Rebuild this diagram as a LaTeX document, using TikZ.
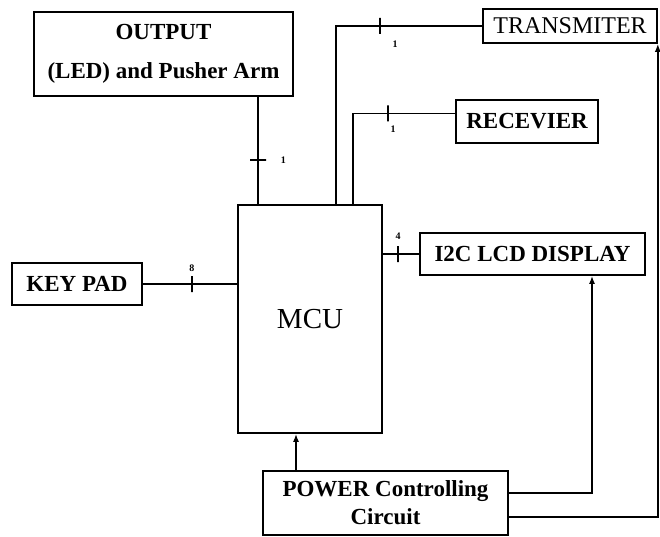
\documentclass[tikz,border=0pt]{standalone}
\usepackage{fontspec}
\setmainfont{Liberation Serif}
\usetikzlibrary{positioning,arrows.meta,calc}

\begin{document}
\begin{tikzpicture}[x=1pt,y=-1pt,
    block/.style={rectangle,draw,line width=1.6pt,inner sep=0pt,align=center,font=\fontsize{23}{28}\selectfont\bfseries},
    wire/.style={line width=1.6pt},
    supply/.style={wire,-{Latex[length=8pt,width=6pt]}},
    tickmark/.style={draw,line width=1.6pt,inner sep=0pt,minimum width=0pt,minimum height=16pt,sloped},
    pins/.style={font=\fontsize{10}{10}\selectfont\bfseries,inner sep=0pt}]
    \useasboundingbox (0,0) rectangle (660,537);

    % MCU
    \node[block,minimum width=144,minimum height=228,font=\fontsize{29}{29}\selectfont] (mcu) at (310,319) {MCU};

    % Output
    \node[block,minimum width=259,minimum height=84,font=\fontsize{23}{39}\selectfont\bfseries] (output) at (163.5,54) {OUTPUT\\(LED) and Pusher Arm};

    % Key pad
    \node[block,minimum width=130,minimum height=42] (keypad) at (77,284) {KEY PAD};

    % Display
    \node[block,minimum width=225,minimum height=42] (lcd) at (532.5,254) {I2C LCD DISPLAY};

    % Radio
    \node[block,minimum width=174,minimum height=34,font=\fontsize{24}{28}\selectfont] (trans) at (570,26) {TRANSMITER};
    \node[block,minimum width=142,minimum height=43] (recv) at (527,121.5) {RECEVIER};

    % Power
    \node[block,minimum width=245,minimum height=64] (power) at (385.5,503) {POWER Controlling\\Circuit};

    % Tap points
    \coordinate (ox) at (258,0);
    \coordinate (tx) at (336,0);
    \coordinate (rx) at (353,0);
    \coordinate (px) at (296,0);
    \coordinate (lx) at (592,0);

    % Signal lines
    \draw[wire] (output.south -| ox) -- (mcu.north -| ox)
        node[tickmark,pos=0.59]{} node[pins,pos=0.59,right=22pt]{1};
    \draw[wire] (mcu.north -| tx) |- (trans.west)
        node[tickmark,pos=0.65]{} node[pins,pos=0.65,below right=14pt and 12pt]{1};
    \draw[wire] (mcu.north -| rx) |- ([yshift=8pt]recv.west)
        node[tickmark,pos=0.67]{} node[pins,pos=0.67,below right=12pt and 2pt]{1};
    \draw[wire] (keypad.east) -- (keypad.east -| mcu.west)
        node[tickmark,pos=0.52]{} node[pins,pos=0.52,above=12pt]{8};
    \draw[wire] (lcd.west -| mcu.east) -- (lcd.west)
        node[tickmark,pos=0.42]{} node[pins,pos=0.42,above=14pt]{4};

    % Power lines
    \draw[supply] (power.north -| px) -- (mcu.south -| px);
    \draw[supply] ([yshift=10pt]power.east) -| (lcd.south -| lx);
    \draw[supply] ([yshift=-14pt]power.east) -| (trans.south east);
\end{tikzpicture}
\end{document}
